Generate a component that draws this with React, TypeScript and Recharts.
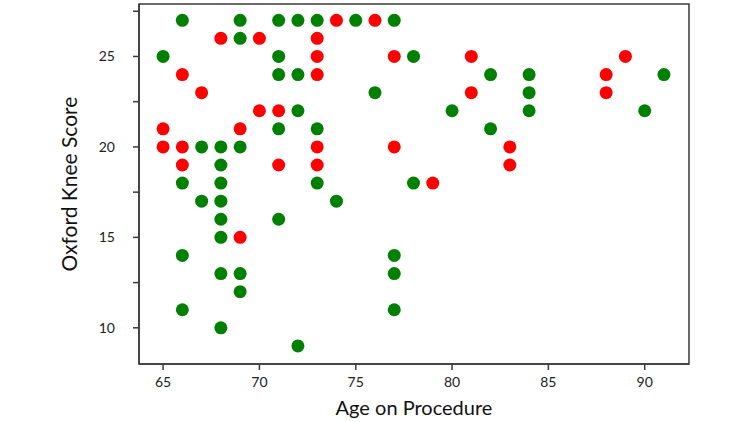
import { ScatterChart, Scatter, XAxis, YAxis, ReferenceArea } from "recharts";

type Pt = { age: number; score: number };

// green markers: [age, score]
const greenPoints: [number, number][] = [
  [66, 27], [69, 27], [71, 27], [72, 27], [73, 27], [75, 27], [77, 27],
  [69, 26],
  [65, 25], [71, 25], [78, 25],
  [71, 24], [72, 24], [82, 24], [84, 24], [91, 24],
  [76, 23], [84, 23],
  [72, 22], [80, 22], [84, 22], [90, 22],
  [71, 21], [73, 21], [82, 21],
  [67, 20], [68, 20], [69, 20],
  [68, 19],
  [66, 18], [68, 18], [73, 18], [78, 18],
  [67, 17], [68, 17], [74, 17],
  [68, 16], [71, 16],
  [68, 15],
  [66, 14], [77, 14],
  [68, 13], [69, 13], [77, 13],
  [69, 12],
  [66, 11], [77, 11],
  [68, 10],
  [72, 9],
];

// red markers: [age, score]
const redPoints: [number, number][] = [
  [74, 27], [76, 27],
  [68, 26], [70, 26], [73, 26],
  [73, 25], [77, 25], [81, 25], [89, 25],
  [66, 24], [73, 24], [88, 24],
  [67, 23], [81, 23], [88, 23],
  [70, 22], [71, 22],
  [65, 21], [69, 21],
  [65, 20], [66, 20], [73, 20], [77, 20], [83, 20],
  [66, 19], [71, 19], [73, 19], [83, 19],
  [79, 18],
  [69, 15],
];

const xTicks = [65, 70, 75, 80, 85, 90];
const yTicks = [10, 12.5, 15, 17.5, 20, 22.5, 25, 27.5];
const xDomain: [number, number] = [63.75, 92.3];
const yDomain: [number, number] = [8, 27.9];

const toPts = (arr: [number, number][]): Pt[] => arr.map(([age, score]) => ({ age, score }));

const axisColor = "#3a3a3a";
const font = "Lato, 'Open Sans', sans-serif";

const dot = (color: string) => (props: any) => (
  <circle cx={props.cx} cy={props.cy} r={6.5} fill={color} />
);

export default function App() {
  return (
    <div style={{ position: "absolute", left: 0, top: 0, background: "#fff" }}>
      <ScatterChart width={750} height={422} margin={{ top: 4, right: 61, bottom: 28, left: 79 }}>
        <XAxis
          type="number"
          dataKey="age"
          domain={xDomain}
          ticks={xTicks}
          allowDataOverflow
          tickSize={6}
          tickMargin={7}
          height={30}
          stroke={axisColor}
          strokeWidth={1.5}
          tick={{ fill: "#222", fontSize: 14, fontFamily: font }}
          label={{ value: "Age on Procedure", position: "center", dy: 29, fill: "#111", fontSize: 20, fontFamily: font }}
        />
        <YAxis
          type="number"
          dataKey="score"
          domain={yDomain}
          ticks={yTicks}
          allowDataOverflow
          width={60}
          tickSize={6}
          tickMargin={18}
          stroke={axisColor}
          strokeWidth={1.5}
          tickFormatter={(v: number) => (v % 5 === 0 ? String(v) : "")}
          tick={{ fill: "#222", fontSize: 14, fontFamily: font }}
          label={{ value: "Oxford Knee Score", angle: -90, position: "center", dx: -39, fill: "#111", fontSize: 21, fontFamily: font }}
        />
        <ReferenceArea
          x1={xDomain[0]}
          x2={xDomain[1]}
          y1={yDomain[0]}
          y2={yDomain[1]}
          fill="none"
          stroke={axisColor}
          strokeWidth={1.5}
          ifOverflow="visible"
        />
        <Scatter data={toPts(redPoints)} shape={dot("#ff0000")} isAnimationActive={false} />
        <Scatter data={toPts(greenPoints)} shape={dot("#008000")} isAnimationActive={false} />
      </ScatterChart>
    </div>
  );
}
